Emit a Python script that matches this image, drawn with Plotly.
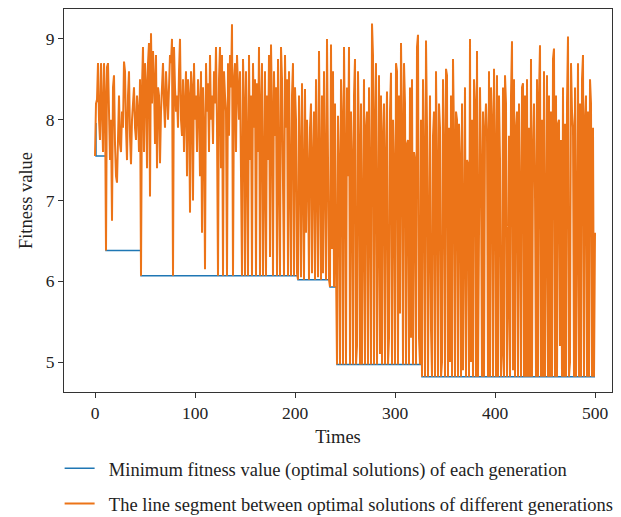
import plotly.graph_objects as go

# orange series: fitness of the optimal solution of every generation (x = 0..500)
orange_vals = [
    7.55, 8.2, 8.25, 8.7, 8.0, 7.75, 8.7, 8.1, 7.6, 8.7,
    8.3, 6.38, 8.65, 8.7, 7.9, 7.5, 8.0, 6.75, 8.4, 8.55,
    7.7, 7.3, 7.22, 8.0, 8.3, 7.7, 7.6, 8.1, 7.9, 8.72,
    8.6, 7.9, 7.5, 8.3, 8.6, 7.8, 7.45, 8.0, 8.25, 8.4,
    7.9, 7.75, 8.3, 8.1, 7.6, 8.5, 6.07, 8.4, 8.9, 7.6,
    8.7, 8.45, 7.4, 8.7, 8.95, 7.05, 9.07, 8.2, 8.85, 8.5,
    7.7, 8.8, 7.4, 8.4, 8.3, 7.46, 8.1, 8.55, 8.7, 8.2,
    7.9, 8.6, 8.3, 8.0, 8.4, 8.8, 8.7, 9.0, 6.07, 8.9,
    8.4, 8.1, 8.3, 7.9, 8.6, 9.0, 8.0, 7.8, 8.5, 7.6,
    8.2, 8.6, 7.3, 8.5, 8.3, 6.85, 8.6, 8.4, 7.0, 8.7,
    8.0, 8.3, 7.6, 8.5, 8.2, 7.3, 8.6, 6.6, 8.4, 7.9,
    6.15, 8.7, 8.1, 8.45, 7.6, 8.8, 8.0, 8.3, 7.7, 8.6,
    8.2, 8.9, 7.9, 6.07, 8.5, 8.9, 7.4, 8.8, 6.07, 8.6,
    8.3, 8.1, 6.07, 8.7, 7.8, 8.8, 8.4, 9.18, 6.07, 8.5,
    8.7, 7.6, 8.8, 8.45, 8.0, 8.6, 6.6, 6.07, 8.75, 8.2,
    6.07, 8.6, 7.7, 6.07, 8.8, 7.5, 8.3, 6.07, 8.7, 7.9,
    8.5, 6.07, 8.45, 7.6, 8.9, 6.07, 8.2, 8.7, 6.07, 7.7,
    8.6, 6.07, 8.3, 7.5, 8.8, 6.3, 8.93, 8.1, 6.07, 8.6,
    7.8, 8.4, 6.07, 8.75, 7.6, 6.07, 8.9, 8.5, 7.2, 6.07,
    8.8, 7.9, 8.5, 6.07, 8.6, 7.5, 6.07, 8.3, 8.7, 6.07,
    8.4, 8.0, 6.1, 6.02, 8.3, 7.6, 6.05, 8.45, 7.2, 6.02,
    8.38, 6.6, 8.0, 7.4, 6.02, 7.9, 8.2, 6.1, 7.5, 8.1,
    6.02, 8.5, 7.3, 6.05, 8.85, 7.7, 6.02, 8.3, 6.1, 8.6,
    7.5, 6.02, 9.0, 7.9, 6.02, 5.93, 8.93, 6.4, 8.6, 5.93,
    8.2, 6.2, 4.97, 8.05, 7.4, 4.97, 8.5, 8.0, 4.97, 8.9,
    7.6, 4.97, 8.4, 7.3, 8.9, 4.97, 8.1, 7.5, 4.97, 8.3,
    8.75, 4.97, 5.2, 8.6, 7.7, 4.97, 8.2, 4.97, 7.6, 8.5,
    4.97, 7.9, 8.1, 4.97, 8.4, 7.2, 4.97, 9.19, 8.79, 4.97,
    8.0, 8.7, 4.97, 7.6, 8.55, 5.1, 8.3, 4.97, 7.8, 8.2,
    4.97, 7.5, 8.35, 4.97, 5.3, 8.1, 8.58, 4.97, 8.0, 7.4,
    4.97, 8.7, 8.6, 4.97, 8.3, 5.6, 8.95, 7.9, 4.97, 8.7,
    8.2, 4.97, 7.7, 7.75, 4.97, 8.4, 5.3, 8.5, 4.97, 7.6,
    7.5, 4.97, 8.9, 9.05, 5.3, 4.97, 8.0, 4.82, 8.5, 7.5,
    4.82, 8.98, 7.9, 4.82, 7.6, 8.3, 5.4, 4.82, 7.8, 8.1,
    4.82, 8.6, 7.4, 4.82, 8.2, 7.9, 4.82, 5.0, 8.5, 7.63,
    4.82, 8.63, 8.55, 4.82, 7.9, 5.0, 8.3, 4.82, 8.75, 7.8,
    4.82, 8.1, 8.0, 4.82, 7.95, 7.5, 4.82, 8.2, 4.9, 7.6,
    8.4, 4.82, 7.5, 7.45, 4.82, 9.0, 5.0, 8.0, 4.82, 8.5,
    8.2, 4.82, 8.85, 4.82, 7.6, 8.4, 7.4, 4.82, 8.1, 4.82,
    7.9, 8.2, 7.8, 4.82, 8.6, 4.82, 8.4, 8.0, 4.82, 8.63,
    7.63, 4.82, 8.55, 4.82, 8.3, 7.5, 4.82, 5.1, 8.4, 4.82,
    8.55, 8.2, 4.82, 5.8, 7.8, 4.82, 8.3, 8.97, 4.9, 8.5,
    4.82, 7.9, 8.1, 4.82, 8.2, 7.0, 4.82, 8.4, 8.45, 4.82,
    8.3, 4.82, 8.5, 4.82, 7.9, 4.82, 8.75, 4.82, 7.6, 8.2,
    7.1, 4.82, 8.5, 4.82, 8.3, 8.92, 4.82, 8.0, 4.82, 8.6,
    4.82, 7.7, 8.55, 4.82, 8.3, 4.82, 8.1, 4.82, 8.75, 8.88,
    4.82, 8.3, 4.82, 7.95, 8.0, 5.2, 7.75, 4.82, 8.4, 4.82,
    7.95, 4.82, 8.2, 9.03, 4.82, 5.0, 8.7, 8.1, 7.9, 4.82,
    8.4, 4.82, 7.7, 8.7, 4.82, 8.2, 4.82, 8.5, 8.8, 4.82,
    8.0, 8.3, 4.82, 8.1, 4.82, 8.5, 8.2, 4.82, 7.9, 4.82,
    6.6,
]
orange_x = list(range(len(orange_vals)))

# blue series: best (minimum) fitness so far, as a step line
blue_x = [0, 1, 11, 46, 203, 235, 242, 327, 500]
blue_vals = [7.95, 7.55, 6.38, 6.07, 6.02, 5.93, 4.97, 4.82, 4.82]

name_blue = "\u00a0\u00a0Minimum fitness value (optimal solutions) of each generation"
name_orange = "\u00a0\u00a0The line segment between optimal solutions of different generations"

serif = "Liberation Serif"

fig = go.Figure()
fig.add_trace(go.Scatter(x=blue_x, y=blue_vals, mode="lines", name=name_blue,
                         line=dict(color="#1f77b4", width=1.5, shape="hv"),
                         legendgroup="a"))
fig.add_trace(go.Scatter(x=orange_x, y=orange_vals, mode="lines", name=name_orange,
                         line=dict(color="#ec7418", width=2),
                         legendgroup="b"))

axis_common = dict(showline=True, linecolor="#333", linewidth=1, mirror=True,
                   ticks="outside", ticklen=5, tickcolor="#333", showgrid=False,
                   zeroline=False, automargin=False,
                   tickfont=dict(family=serif, size=17.5, color="#222"))

fig.update_xaxes(range=[-31, 517], tickvals=[0, 100, 200, 300, 400, 500],
                 title=dict(text="Times", font=dict(family=serif, size=18.5, color="#222"),
                            standoff=8),
                 **axis_common)
fig.update_yaxes(range=[4.63, 9.37], tickvals=[5, 6, 7, 8, 9],
                 title=dict(text="Fitness value", font=dict(family=serif, size=18.5, color="#222"),
                            standoff=8),
                 **axis_common)

# the page puts the figure 8px in from the top-left corner
fig.update_layout(
    width=621, height=517,
    margin=dict(l=56, r=17, t=1, b=133, autoexpand=False),
    plot_bgcolor="white", paper_bgcolor="white",
    font=dict(family=serif, color="#222"),
    legend=dict(x=-0.008, y=-0.151, xanchor="left", yanchor="top",
                font=dict(family=serif, size=18.5, color="#222"),
                tracegroupgap=8, bgcolor="rgba(0,0,0,0)"),
)

fig.write_html("out.html")
